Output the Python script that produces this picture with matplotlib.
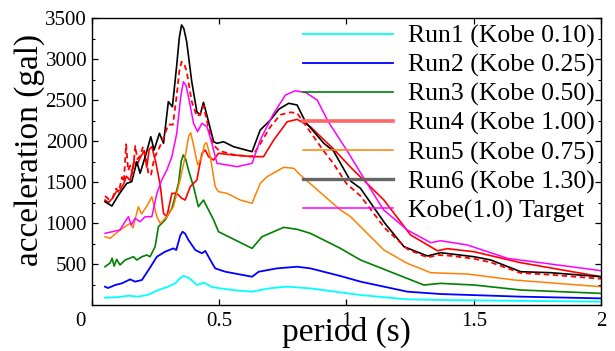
"""Response spectra of the shaking-table runs against the Kobe target."""

import matplotlib

matplotlib.use("Agg")
import matplotlib.pyplot as plt  # noqa: E402
from matplotlib.ticker import MultipleLocator  # noqa: E402
from matplotlib.transforms import ScaledTranslation  # noqa: E402

plt.rcParams["font.family"] = ["Liberation Serif", "DejaVu Serif"]

# period (s) / acceleration (gal)
run1_t = [0.051, 0.10, 0.143, 0.182, 0.22, 0.261, 0.30, 0.327, 0.349, 0.359, 0.370, 0.385, 0.412,
          0.441, 0.471, 0.504, 0.56, 0.629, 0.70, 0.766, 0.858, 0.95, 1.055, 1.239, 1.40, 1.70, 2.0]
run1_a = [89, 95, 114, 102, 125, 183, 225, 264, 335, 354, 345, 320, 244,
          272, 220, 203, 180, 163, 205, 224, 203, 165, 122, 69, 60, 50, 41]

run2_t = [0.051, 0.063, 0.091, 0.117, 0.150, 0.169, 0.196, 0.222, 0.255, 0.287, 0.320, 0.331,
          0.347, 0.356, 0.366, 0.379, 0.406, 0.432, 0.445, 0.465, 0.484, 0.524, 0.629, 0.655,
          0.727, 0.806, 0.858, 0.976, 1.055, 1.239, 1.370, 1.685, 2.0]
run2_a = [224, 207, 244, 264, 313, 285, 305, 427, 589, 650, 691, 670,
          850, 894, 870, 793, 671, 630, 660, 549, 447, 406, 345, 406,
          447, 467, 447, 354, 285, 163, 134, 102, 81]

run3_t = [0.051, 0.071, 0.079, 0.087, 0.097, 0.110, 0.130, 0.163, 0.176, 0.196, 0.215, 0.228,
          0.248, 0.261, 0.287, 0.314, 0.340, 0.351, 0.359, 0.368, 0.379, 0.399, 0.418, 0.438,
          0.458, 0.478, 0.497, 0.629, 0.668, 0.753, 0.806, 0.858, 0.976, 1.055, 1.304, 1.370,
          1.501, 1.685, 2.0]
run3_a = [467, 512, 570, 475, 557, 488, 549, 589, 549, 589, 610, 589,
          711, 955, 1037, 1179, 1484, 1760, 1829, 1780, 1646, 1443, 1199, 1280,
          1159, 1037, 894, 691, 833, 947, 923, 874, 691, 549, 244, 264,
          244, 183, 142]

run4_t = [0.051, 0.065, 0.080, 0.095, 0.110, 0.125, 0.135, 0.150, 0.165, 0.175, 0.190, 0.205,
          0.215, 0.225, 0.235, 0.250, 0.268, 0.281, 0.294, 0.314, 0.333, 0.353, 0.366, 0.386,
          0.412, 0.432, 0.445, 0.458, 0.478, 0.497, 0.556, 0.635, 0.674, 0.714, 0.767, 0.806,
          0.858, 0.885, 0.95, 1.016, 1.147, 1.252, 1.357, 1.396, 1.501, 1.685, 2.0]
run4_a = [1280, 1250, 1300, 1380, 1400, 1480, 1570, 1520, 1760, 1700, 1800, 1880,
          1680, 1900, 1931, 1750, 1463, 1118, 1077, 1362, 1362, 1301, 1280, 1443,
          1524, 1850, 1890, 1809, 1768, 1850, 1829, 1809, 1809, 2012, 2235, 2264,
          2175, 2093, 1900, 1680, 1280, 854, 662, 687, 650, 516, 345]

run5_t = [0.051, 0.071, 0.110, 0.150, 0.161, 0.182, 0.195, 0.218, 0.235, 0.255, 0.268, 0.294,
          0.320, 0.346, 0.366, 0.380, 0.388, 0.399, 0.415, 0.432, 0.442, 0.450, 0.465, 0.484,
          0.497, 0.530, 0.583, 0.629, 0.661, 0.688, 0.753, 0.793, 0.819, 0.976, 1.016, 1.147,
          1.239, 1.331, 1.475, 1.659, 2.0]
run5_a = [833, 813, 915, 996, 940, 1199, 1110, 1220, 1321, 1077, 996, 1077,
          1199, 1524, 1809, 2060, 2100, 1950, 1707, 1809, 1960, 1980, 1809, 1443,
          1382, 1362, 1280, 1240, 1484, 1565, 1679, 1667, 1585, 1159, 1077, 671,
          508, 394, 378, 305, 223]

run6_t = [0.051, 0.078, 0.104, 0.137, 0.156, 0.176, 0.189, 0.213, 0.231, 0.244, 0.265, 0.281,
          0.300, 0.316, 0.333, 0.343, 0.352, 0.361, 0.372, 0.392, 0.412, 0.425, 0.438, 0.458,
          0.478, 0.491, 0.517, 0.556, 0.629, 0.661, 0.701, 0.735, 0.773, 0.806, 0.839, 0.911,
          0.949, 1.016, 1.055, 1.15, 1.226, 1.318, 1.370, 1.501, 1.567, 1.685, 1.803, 2.0]
run6_a = [1260, 1207, 1341, 1484, 1504, 1748, 1606, 1850, 2053, 1890, 2094, 1972,
          2480, 2418, 2927, 3260, 3415, 3370, 3211, 2723, 2357, 2317, 2472, 2235,
          1991, 1972, 1991, 1931, 1870, 2134, 2256, 2390, 2460, 2439, 2232, 1972,
          1878, 1512, 1423, 1000, 711, 598, 638, 589, 549, 406, 394, 345]

# red dashed curve (no legend entry in the original)
dash_t = [0.051, 0.065, 0.080, 0.095, 0.105, 0.118, 0.125, 0.134, 0.142, 0.150, 0.160, 0.170,
          0.178, 0.190, 0.200, 0.212, 0.222, 0.232, 0.245, 0.262, 0.280, 0.300, 0.318, 0.333,
          0.343, 0.352, 0.362, 0.372, 0.392, 0.412, 0.425, 0.438, 0.455, 0.475, 0.500, 0.560,
          0.629, 0.660, 0.700, 0.740, 0.780, 0.806, 0.860, 0.910, 0.950, 1.000, 1.055, 1.150,
          1.240, 1.318, 1.360, 1.409, 1.500, 1.567, 1.685, 1.800, 2.0]
dash_a = [1330, 1290, 1300, 1420, 1380, 1560, 1500, 1960, 1640, 1700, 1600, 1940,
          1780, 1820, 1930, 1820, 1590, 1590, 1800, 1900, 2030, 2200, 2200, 2560,
          2850, 2967, 2940, 2850, 2480, 2300, 2330, 2430, 2200, 1960, 1880, 1830,
          1810, 1960, 2170, 2320, 2350, 2340, 2100, 1880, 1720, 1480, 1330, 940,
          680, 580, 610, 600, 565, 520, 390, 370, 320]

target_t = [0.051, 0.110, 0.130, 0.143, 0.154, 0.169, 0.189, 0.209, 0.235, 0.255, 0.274, 0.294,
            0.314, 0.333, 0.349, 0.359, 0.369, 0.379, 0.399, 0.415, 0.432, 0.452, 0.471, 0.491,
            0.570, 0.629, 0.661, 0.714, 0.760, 0.799, 0.840, 0.885, 0.929, 1.003, 1.075, 1.146,
            1.239, 1.331, 1.370, 1.475, 1.633, 2.0]
target_a = [874, 915, 1016, 1077, 976, 1057, 1016, 1077, 1077, 1362, 1524, 1646,
            1809, 2094, 2550, 2723, 2680, 2540, 2216, 2114, 2216, 2175, 1972, 1728,
            1687, 1728, 2012, 2338, 2560, 2613, 2590, 2500, 2232, 1878, 1512, 1159,
            915, 760, 784, 732, 569, 419]

labels = ["Run1 (Kobe 0.10)", "Run2 (Kobe 0.25)", "Run3 (Kobe 0.50)", "Run4 (Kobe 1.00)",
          "Run5 (Kobe 0.75)", "Run6 (Kobe 1.30)", "Kobe(1.0) Target"]

fig = plt.figure(figsize=(6.15, 3.51), dpi=100)
ax = fig.add_axes([0.1496, 0.131, 0.8276, 0.8177])

ax.plot(run1_t, run1_a, c="#00ffff", lw=1.3, label=labels[0])
ax.plot(run2_t, run2_a, c="#0000ff", lw=1.3, label=labels[1])
ax.plot(run3_t, run3_a, c="#007f00", lw=1.2, label=labels[2])
ax.plot(run4_t, run4_a, c="#ff0000", lw=1.2, label=labels[3])
ax.plot(run5_t, run5_a, c="#ff8000", lw=1.1, label=labels[4])
ax.plot(run6_t, run6_a, c="black", lw=1.2, label=labels[5])
ax.plot(dash_t, dash_a, c="#ff0000", lw=1.3, ls=(0, (3, 2)), label="_nolegend_")
ax.plot(target_t, target_a, c="#ff00ff", lw=1.1, label=labels[6])

ax.set_xlim(0, 2)
ax.set_ylim(0, 3500)
ax.set_xticks([0, 0.5, 1, 1.5, 2])
ax.set_xticklabels(["0", "0.5", "1", "1.5", "2"])
ax.set_yticks([500, 1000, 1500, 2000, 2500, 3000, 3500])
ax.yaxis.set_minor_locator(MultipleLocator(250))
ax.tick_params(which="both", direction="in", top=True, right=True, labelsize=15)
ax.tick_params(axis="x", pad=5)
ax.tick_params(axis="y", pad=3.5)
ax.tick_params(which="major", length=4.5, width=0.9)
ax.tick_params(which="minor", length=2.5, width=0.8)
for s in ax.spines.values():
    s.set_linewidth(1.0)

# the "0" at the corner sits left of the axis origin
lab0 = ax.get_xticklabels()[0]
lab0.set_transform(lab0.get_transform() + ScaledTranslation(-0.12, 0, fig.dpi_scale_trans))

ax.set_xlabel("period (s)", fontsize=24)
ax.set_ylabel("acceleration (gal)", fontsize=24)
ax.xaxis.set_label_coords(0.5, -0.04)
ax.yaxis.set_label_coords(-0.092, 0.542)

leg = ax.legend(loc="upper right", bbox_to_anchor=(0.987, 0.976), frameon=False, fontsize=18.5,
                handlelength=3.5, handletextpad=0.58, labelspacing=0.22, borderpad=0,
                borderaxespad=0)
lines = leg.get_lines()
lines[3].set_color("#ff6666")
lines[3].set_linewidth(2.6)
lines[5].set_color("#666666")
lines[5].set_linewidth(2.4)

fig.savefig("out.png", dpi=100)
